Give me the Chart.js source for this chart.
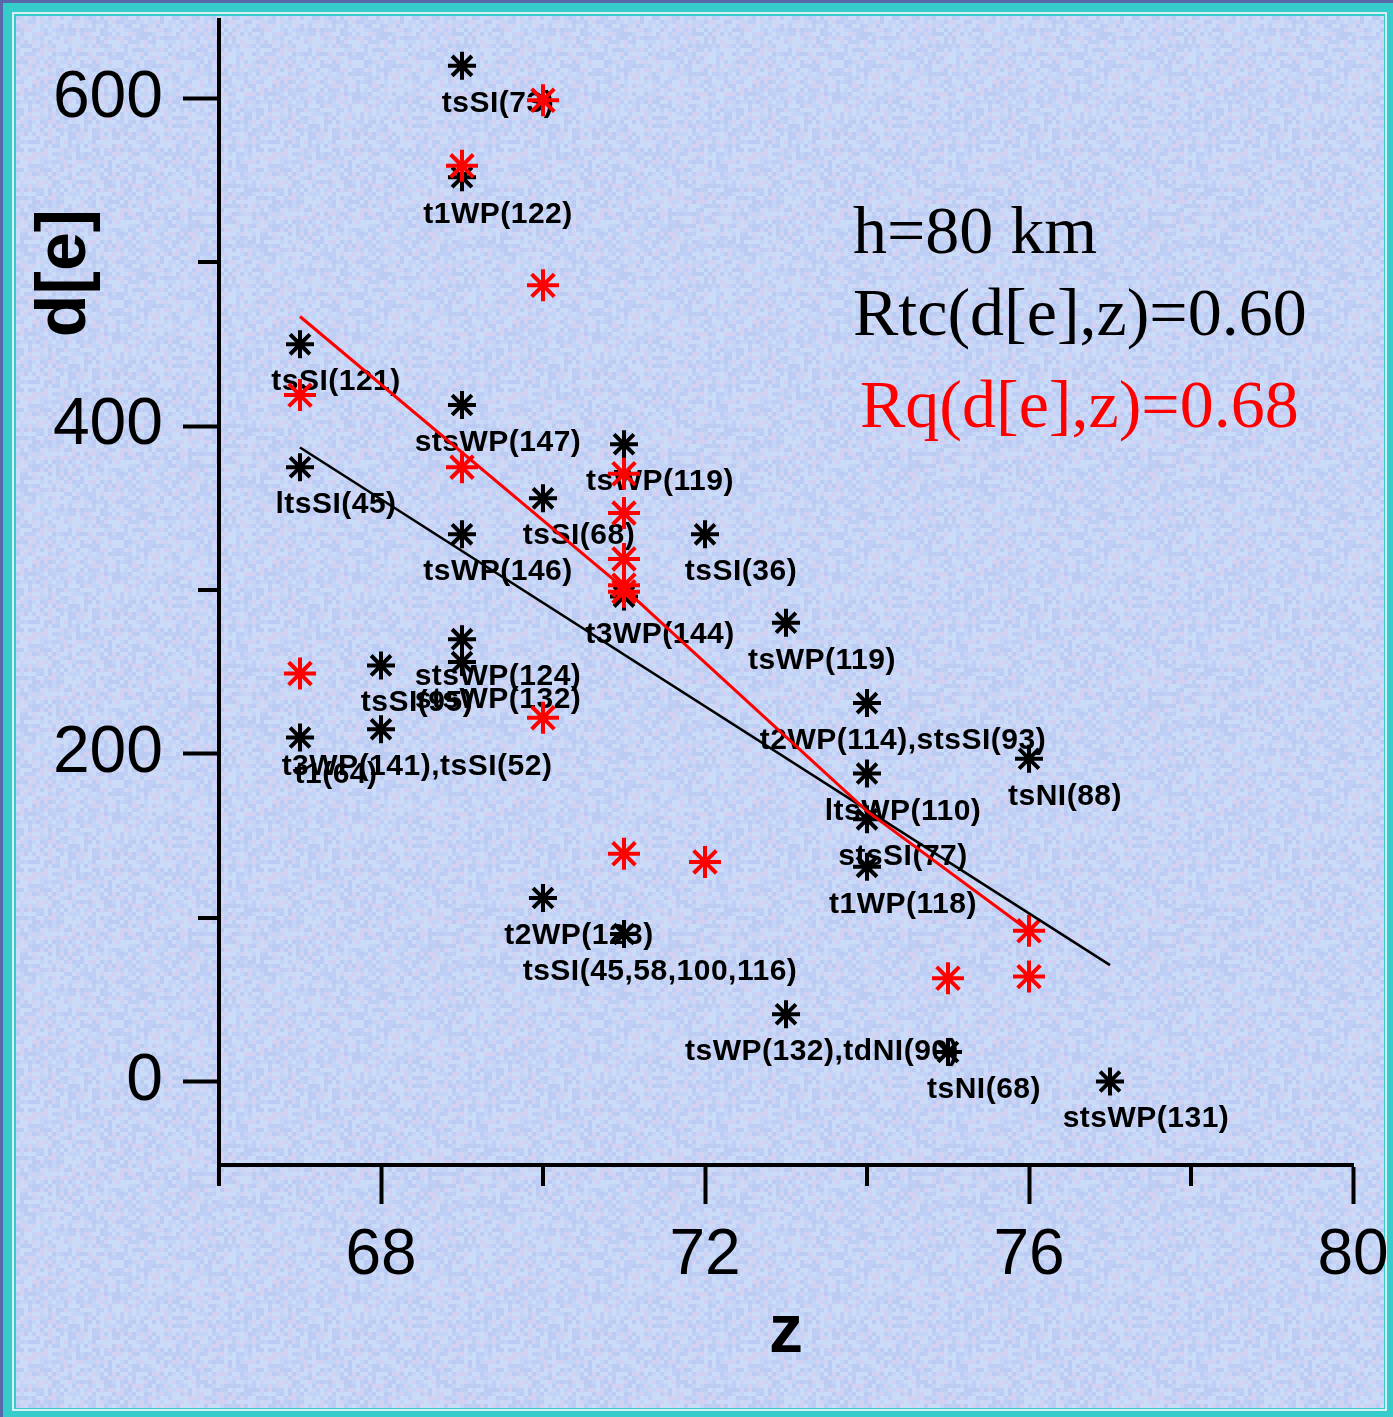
<!DOCTYPE html>
<html>
<head>
<meta charset="utf-8">
<script src="https://cdn.jsdelivr.net/npm/chart.js@4.4.1/dist/chart.umd.min.js"></script>
<style>
  html, body { margin: 0; padding: 0; background: #5868a8; }
  #wrap { width: 1393px; height: 1417px; position: relative; }
</style>
</head>
<body>
<div id="wrap"><canvas id="deChart"></canvas></div>
<script>
// black stars (Rtc set) with their event labels
const blackZ = [69, 69, 67, 69, 67, 71, 70, 69, 72, 71, 73, 69, 69, 68, 68, 67, 70, 71, 73, 75, 77, 74, 76, 74, 74, 74];
const blackD = [620, 552, 450, 413, 375, 389, 356, 334, 334, 296, 280, 270, 256, 254, 215, 210, 112, 90, 41, 18, 0, 231, 197, 188, 160, 131];
const blackLabels = ['tsSI(73)', 't1WP(122)', 'tsSI(121)', 'stsWP(147)', 'ltsSI(45)', 'tsWP(119)', 'tsSI(68)',
  'tsWP(146)', 'tsSI(36)', 't3WP(144)', 'tsWP(119)', 'stsWP(124)', 'stsWP(132)', 'tsSI(95)',
  't3WP(141),tsSI(52)', 't1(64)', 't2WP(123)', 'tsSI(45,58,100,116)', 'tsWP(132),tdNI(90)', 'tsNI(68)',
  'stsWP(131)', 't2WP(114),stsSI(93)', 'tsNI(88)', 'ltsWP(110)', 'stsSI(77)', 't1WP(118)'];

// red stars (Rq set)
const redZ = [70, 69, 70, 67, 69, 71, 71, 71, 71, 71, 67, 70, 71, 72, 76, 75, 76];
const redD = [599, 559, 486, 419, 375, 371, 347, 319, 303, 299, 249, 222, 139, 134, 92, 63, 64];

// fitted lines
const blackFitZ = [67, 77];
const blackFitD = [387, 71];
const redFitZ = [67, 71, 74, 76];
const redFitD = [467, 301, 165, 92];

// axes
const xMajor = [68, 72, 76, 80];
const xMinor = [66, 70, 74, 78];
const yMajor = [0, 200, 400, 600];
const yMinor = [100, 300, 500];

const notes = ['h=80 km', 'Rtc(d[e],z)=0.60', 'Rq(d[e],z)=0.68'];

const toPts = (xs, ys) => xs.map((x, i) => ({ x: x, y: ys[i] }));

// mottled paper texture, deterministic
function makeTexture() {
  const c = document.createElement('canvas');
  c.width = 240; c.height = 240;
  const g = c.getContext('2d');
  g.fillStyle = '#c6d4f6';
  g.fillRect(0, 0, 240, 240);
  const cols = ['#b9c9f3', '#d2def9', '#c0d6f8', '#dacff0', '#b5c4ef', '#cbe1fa'];
  for (let y = 0; y < 240; y += 4) {
    for (let x = 0; x < 240; x += 4) {
      const h = Math.abs(Math.sin(x * 12.9898 + y * 78.233) * 43758.5453) % 1;
      g.fillStyle = cols[Math.floor(h * cols.length)];
      g.globalAlpha = 0.6;
      g.fillRect(x, y, 4, 4);
    }
  }
  return c;
}

const framePlugin = {
  id: 'frame',
  beforeDraw(chart) {
    const ctx = chart.ctx;
    const w = chart.width, h = chart.height;
    ctx.save();
    ctx.fillStyle = '#5868a8';
    ctx.fillRect(0, 0, w, h);
    ctx.fillStyle = '#36cccc';
    ctx.fillRect(3, 3, w - 3, h - 3);
    ctx.fillStyle = '#d8f0f4';
    ctx.fillRect(12, 12, w - 18, h - 18);
    ctx.fillStyle = '#36cccc';
    ctx.fillRect(14, 14, w - 22, h - 22);
    ctx.fillStyle = ctx.createPattern(makeTexture(), 'repeat');
    ctx.fillRect(16, 16, w - 25, h - 25);
    ctx.restore();
  }
};

const labelPlugin = {
  id: 'starLabels',
  beforeDatasetsDraw(chart) {
    const ctx = chart.ctx;
    const xs = chart.scales.x, ys = chart.scales.y;
    ctx.save();
    ctx.font = 'bold 30px "Liberation Sans", Arial, sans-serif';
    ctx.letterSpacing = '0.5px';
    ctx.fillStyle = '#000';
    ctx.textAlign = 'center';
    ctx.textBaseline = 'alphabetic';
    blackLabels.forEach((t, i) => {
      ctx.fillText(t, xs.getPixelForValue(blackZ[i]) + 36, ys.getPixelForValue(blackD[i]) + 46);
    });
    ctx.restore();
  },
  afterDraw(chart) {
    const ctx = chart.ctx;
    const xs = chart.scales.x, ys = chart.scales.y;
    const area = chart.chartArea;
    ctx.save();
    // minor ticks
    ctx.strokeStyle = '#000';
    ctx.lineWidth = 4;
    xMinor.forEach(v => {
      const px = Math.round(xs.getPixelForValue(v));
      ctx.beginPath();
      ctx.moveTo(px, area.bottom);
      ctx.lineTo(px, area.bottom + 21);
      ctx.stroke();
    });
    yMinor.forEach(v => {
      const py = Math.round(ys.getPixelForValue(v));
      ctx.beginPath();
      ctx.moveTo(area.left, py);
      ctx.lineTo(area.left - 21, py);
      ctx.stroke();
    });
    // axis titles
    ctx.fillStyle = '#000';
    ctx.font = 'bold 68px "Liberation Sans", Arial, sans-serif';
    ctx.textAlign = 'center';
    ctx.textBaseline = 'alphabetic';
    ctx.fillText('z', (area.left + area.right) / 2, 1352);
    ctx.save();
    ctx.translate(85, 273);
    ctx.rotate(-Math.PI / 2);
    ctx.font = 'bold 70px "Liberation Sans", Arial, sans-serif';
    ctx.fillText('d[e]', 0, 0);
    ctx.restore();
    // correlation notes
    ctx.textAlign = 'left';
    ctx.font = '68px "Liberation Serif", "Times New Roman", serif';
    ctx.fillStyle = '#000';
    ctx.fillText(notes[0], 853, 253);
    ctx.fillText(notes[1], 853, 335);
    ctx.fillStyle = '#ff0000';
    ctx.fillText(notes[2], 860, 427);
    ctx.restore();
  }
};

const ctx = document.getElementById('deChart').getContext('2d');
const chart = new Chart(ctx, {
  type: 'scatter',
  data: {
    datasets: [
      {
        label: 'Rq fit',
        type: 'line',
        data: toPts(redFitZ, redFitD),
        borderColor: '#ff0000',
        borderWidth: 3,
        pointRadius: 0,
        fill: false,
        tension: 0
      },
      {
        label: 'Rtc fit',
        type: 'line',
        data: toPts(blackFitZ, blackFitD),
        borderColor: '#000',
        borderWidth: 2.5,
        pointRadius: 0,
        fill: false
      },
      {
        label: 'Rq',
        data: toPts(redZ, redD),
        pointStyle: 'star',
        pointRadius: 16,
        borderColor: '#ff0000',
        backgroundColor: '#ff0000',
        borderWidth: 4
      },
      {
        label: 'Rtc',
        data: toPts(blackZ, blackD),
        pointStyle: 'star',
        pointRadius: 14,
        borderColor: '#000',
        backgroundColor: '#000',
        borderWidth: 4
      }
    ]
  },
  options: {
    responsive: true,
    maintainAspectRatio: false,
    animation: false,
    events: [],
    layout: { padding: { top: 17, right: 40, left: 0, bottom: 0 } },
    plugins: {
      legend: { display: false },
      tooltip: { enabled: false }
    },
    scales: {
      x: {
        type: 'linear',
        min: 66,
        max: 80,
        afterBuildTicks: s => { s.ticks = xMajor.map(v => ({ value: v })); },
        afterFit: s => { s.height = 252; s.paddingLeft = 0; s.paddingRight = 0; },
        border: { display: true, color: '#000', width: 4 },
        grid: { drawOnChartArea: false, drawTicks: true, tickLength: 39, tickWidth: 4, tickColor: '#000' },
        ticks: {
          color: '#000',
          padding: 14,
          maxRotation: 0,
          font: { family: '"Liberation Sans", Arial, sans-serif', size: 64 }
        }
      },
      y: {
        type: 'linear',
        min: -51,
        max: 648,
        afterBuildTicks: s => { s.ticks = yMajor.map(v => ({ value: v })); },
        afterFit: s => { s.width = 219; s.paddingTop = 0; s.paddingBottom = 0; },
        border: { display: true, color: '#000', width: 4 },
        grid: { drawOnChartArea: false, drawTicks: true, tickLength: 36, tickWidth: 4, tickColor: '#000' },
        ticks: {
          color: '#000',
          padding: 20,
          font: { family: '"Liberation Sans", Arial, sans-serif', size: 66 }
        }
      }
    }
  },
  plugins: [framePlugin, labelPlugin]
});
</script>
</body>
</html>
